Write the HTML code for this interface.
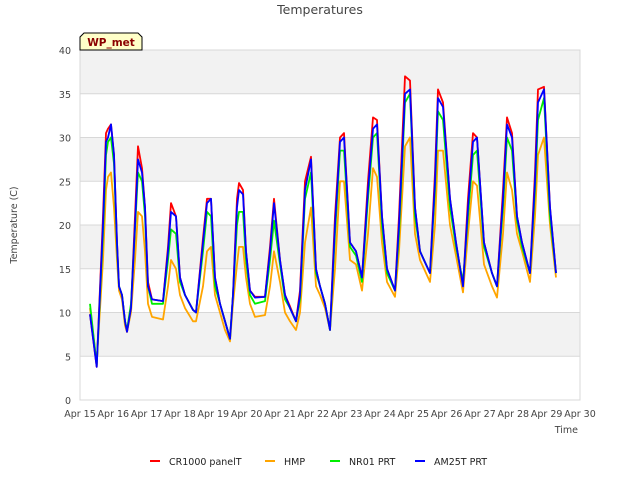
<!DOCTYPE html>
<html><head><meta charset="utf-8"><style>
body{margin:0;background:#fff;font-family:"DejaVu Sans","Liberation Sans",sans-serif}
svg text{font-family:"DejaVu Sans","Liberation Sans",sans-serif}
</style></head><body>
<svg id="chart" width="640" height="480" viewBox="0 0 640 480">
<text x="320" y="14" text-anchor="middle" font-size="12.5" fill="#444">Temperatures</text>
<g id="bands"></g>
<g id="grid"></g>
<g id="yticks"></g>
<g id="xticks"></g>
<g id="series"></g>
<text x="0" y="0" transform="translate(17,225) rotate(-90)" text-anchor="middle" font-size="9.5" fill="#444">Temperature (C)</text>
<text x="578" y="433" text-anchor="end" font-size="9.5" fill="#444">Time</text>
<g>
<path d="M80,50 L80,37 L84,33 L138,33 L142,37 L142,50 Z" fill="#ffffc8" stroke="#000" stroke-width="1"/>
<text x="111" y="46" text-anchor="middle" font-size="10.5" font-weight="bold" fill="#8b0000">WP_met</text>
</g>
<g id="legend"></g>
</svg>
<script>
const times=[0.3,0.5,0.69,0.78,0.84,0.93,1.02,1.11,1.17,1.26,1.35,1.41,1.53,1.65,1.74,1.86,1.95,2.04,2.16,2.49,2.64,2.73,2.88,3.0,3.15,3.39,3.48,3.69,3.81,3.93,4.05,4.2,4.35,4.5,4.59,4.71,4.77,4.89,4.98,5.1,5.25,5.55,5.7,5.82,6.0,6.15,6.3,6.48,6.6,6.75,6.93,7.08,7.2,7.35,7.5,7.65,7.8,7.92,8.1,8.28,8.46,8.64,8.79,8.91,9.06,9.21,9.45,9.57,9.75,9.9,10.05,10.2,10.5,10.65,10.74,10.89,11.1,11.28,11.49,11.64,11.79,11.91,12.12,12.36,12.51,12.69,12.81,12.96,13.11,13.26,13.5,13.65,13.74,13.92,14.1,14.28];
const cr1000=[9.8,3.8,21,30.5,31,31.5,28,18,13,12,9,7.8,10.5,21,29,26.5,22,13.5,11.5,11.3,17.5,22.5,21,14,12,10.3,10,18.5,23,23,14,11,9,7,12,23,24.8,24,17,12.5,11.8,11.8,17.5,23,16,12,10.7,9,12.5,25,27.8,15,13,11,8,21,30,30.5,18,17,14,25,32.3,32,21,15,12.5,21,37,36.5,22,17,14.5,26,35.5,34,23,18,13,23,30.5,30,18,14.5,13,24,32.3,30.5,21,18,14.5,26,35.5,35.8,22,14.5];
const hmp=[10.5,4.2,16,24,25.5,26,22,16,12.5,11.5,8.5,7.8,10,16,21.5,21,17,11,9.5,9.2,13,16,15,12,10.5,9,9,13,17,17.5,12,10,8,6.7,11,15.5,17.5,17.5,14,11,9.5,9.7,13,17,13.5,10,9,8,10,18,22,13,12,10.5,8,15,25,25,16,15.5,12.5,19,26.5,25.5,18,13.5,11.8,17,29,30,19,16,13.5,20,28.5,28.5,20,16.5,12.3,19,25,24.5,15.5,13,11.7,19,26,24,19,17,13.5,21,28,30,20,14];
const nr01=[11,4,19,28,29.5,30,27,17.5,13,12,9,8,11,19.5,26,25,21,13,11,11,16,19.5,19,13.5,12,10.3,10,17,21.5,21,13,11,9,7,12,20,21.5,21.5,16,12,11,11.3,16,20.5,15.5,11.5,10.5,9,11.5,23,26,14.5,13,11,8,19,28.5,28.5,17.5,16.5,13.5,23,30,30.5,20,14.5,12.5,19,34,35,21,17,14.5,24,33,32,22,17.5,13.5,21,28,28.5,17.5,14.5,13,22,30,28.5,20.5,17.5,14.5,24,32,34.5,21,14.5];
const am25t=[9.8,3.8,20,29.5,30,31.5,28,18,13,12,9,7.8,10.5,20,27.5,26,22,13,11.5,11.3,17,21.5,21,14,12,10.3,10,18,22.5,23,14,11,9,7,12,22,24,23.5,17,12.5,11.7,11.8,17,22.5,16,12,10.5,9,12,24,27.5,15,13,11,8,20,29.5,30,18,17,14,24,31,31.5,21,15,12.5,20,35,35.5,22,17,14.5,25,34.5,33.5,23,18,13,22,29.5,30,18,14.5,13,23,31.5,30,21,18,14.5,25,34,35.5,22,14.5];
const yTicks=[0,5,10,15,20,25,30,35,40];
const xTickLabels=["Apr 15","Apr 16","Apr 17","Apr 18","Apr 19","Apr 20","Apr 21","Apr 22","Apr 23","Apr 24","Apr 25","Apr 26","Apr 27","Apr 28","Apr 29","Apr 30"];
const seriesNames=["CR1000 panelT","HMP","NR01 PRT","AM25T PRT"];
const seriesColors=["#ff0000","#ffa500","#00ee00","#0000ff"];

const NS="http://www.w3.org/2000/svg";
const L=80,R=580,T=50,B=400;
function xs(d){return L+(R-L)*d/15;}
function ys(v){return B-(B-T)*v/40;}
function mk(tag,attrs,parent){const e=document.createElementNS(NS,tag);for(const k in attrs)e.setAttribute(k,attrs[k]);parent.appendChild(e);return e;}

const bands=document.getElementById('bands');
for(let v=5;v<40;v+=10){
  const r=mk('rect',{x:L,y:ys(v+5),width:R-L,height:ys(v)-ys(v+5),fill:'#f2f2f2'},bands);
  
  
}
const grid=document.getElementById('grid');
const frame=mk('rect',{x:L,y:T,width:R-L,height:B-T,fill:'none',stroke:'#d8d8d8'},grid);


const yt=document.getElementById('yticks');
yTicks.forEach(v=>{
  const g=mk('line',{x1:L,x2:R,y1:ys(v),y2:ys(v),stroke:'#d8d8d8'},grid);
  
  
  const t=mk('text',{x:L-9,y:ys(v)+4,'text-anchor':'end','font-size':'9.5',fill:'#444'},yt);
  t.textContent=v;
  
  
});
const xt=document.getElementById('xticks');
xTickLabels.forEach((s,i)=>{
  const t=mk('text',{x:xs(i),y:B+17,'text-anchor':'middle','font-size':'9.5',fill:'#444'},xt);
  t.textContent=s;
  
  
});
const sg=document.getElementById('series');
[cr1000,hmp,nr01,am25t].forEach((arr,si)=>{
  const pts=arr.map((v,i)=>xs(times[i]).toFixed(1)+','+ys(v).toFixed(1)).join(' ');
  const p=mk('polyline',{points:pts,fill:'none',stroke:seriesColors[si],'stroke-width':'1.8','stroke-linejoin':'round'},sg);
  
  
});
const lg=document.getElementById('legend');
const lx=[150,265,330,415];
seriesNames.forEach((n,i)=>{
  const g=mk('g',{},lg);
  
  
  mk('line',{x1:lx[i],x2:lx[i]+10,y1:461,y2:461,stroke:seriesColors[i],'stroke-width':'2'},g);
  const t=mk('text',{x:lx[i]+19,y:465,'font-size':'9.5',fill:'#222'},g);
  t.textContent=n;
});
</script>
</body></html>
